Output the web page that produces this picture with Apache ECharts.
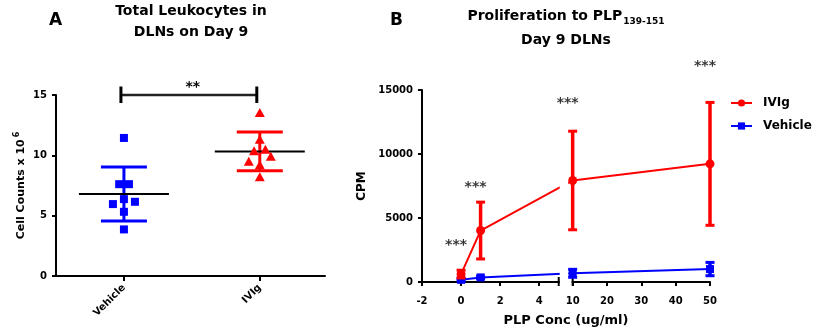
<!DOCTYPE html>
<html>
<head>
<meta charset="utf-8">
<script src="https://cdn.jsdelivr.net/npm/echarts@6/dist/echarts.min.js"></script>
<style>
html, body { margin: 0; padding: 0; background: #fff; }
#main { width: 814px; height: 329px; }
</style>
</head>
<body>
<div id="main"></div>
<script>
// A图：各组细胞数 (x 10^6)
var groupNames = ['Vehicle', 'IVIg'];
var vehicleCounts = [11.44, 7.61, 7.61, 6.37, 5.96, 6.15, 5.32, 3.86];
var vehicleJitter = [0, -0.035, 0.037, 0, -0.081, 0.081, 0, 0];
var ivigCounts = [13.54, 11.33, 10.37, 10.51, 9.93, 9.51, 9.21, 8.22];
var ivigJitter = [0, 0, -0.042, 0.041, 0.081, -0.081, 0, 0];

// B图：PLP浓度与CPM
var plpConc = [0, 1, 10, 50];
var ivigCpm = [620, 4020, 7930, 9230];
var ivigErr = [300, 2220, 3850, 4800];
var vehicleCpm = [170, 360, 680, 1010];
var vehicleErr = [100, 100, 310, 520];
var concTicks = [-2, 0, 2, 4, 10, 20, 30, 40, 50];
var starCpm = [2860, 7410, 13960, 16870];

// 断轴：5 以后跳到 10
var BREAK_LO = 5, BREAK_HI = 10, SEG2_START = 5.714, SEG2_K = 0.1758;
function toAxis(x) { return x <= BREAK_LO ? x : SEG2_START + (x - BREAK_HI) * SEG2_K; }
function fromAxis(u) { return u <= BREAK_LO + 0.01 ? u : BREAK_HI + (u - SEG2_START) / SEG2_K; }

function meanOf(a) { var s = 0; a.forEach(function (v) { s += v; }); return s / a.length; }
function sdOf(a) {
    var m = meanOf(a), s = 0;
    a.forEach(function (v) { s += (v - m) * (v - m); });
    return Math.sqrt(s / (a.length - 1));
}

var FONT = 'DejaVu Sans';
var box = document.getElementById('main');
var myChart = echarts.init(box);

// 均值 ± SD
function meanSdItem(color) {
    return function (params, api) {
        var x = api.value(0), m = api.value(1), sd = api.value(2);
        var pm = api.coord([x, m]), ph = api.coord([x, m + sd]), pl = api.coord([x, m - sd]);
        return {
            type: 'group', children: [
                { type: 'line', shape: { x1: ph[0], y1: ph[1], x2: pl[0], y2: pl[1] }, style: { stroke: color, lineWidth: 3 } },
                { type: 'line', shape: { x1: ph[0] - 23, y1: ph[1], x2: ph[0] + 23, y2: ph[1] }, style: { stroke: color, lineWidth: 3 } },
                { type: 'line', shape: { x1: pl[0] - 23, y1: pl[1], x2: pl[0] + 23, y2: pl[1] }, style: { stroke: color, lineWidth: 3 } },
                { type: 'line', shape: { x1: pm[0] - 45, y1: pm[1], x2: pm[0] + 45, y2: pm[1] }, style: { stroke: '#000', lineWidth: 2 } }
            ]
        };
    };
}

// 误差棒
function errorBarItem(color) {
    return function (params, api) {
        var x = api.value(0);
        var top = api.coord([x, api.value(2)]), bot = api.coord([x, api.value(1)]);
        var cap = 4.5;
        return {
            type: 'group', children: [
                { type: 'line', shape: { x1: top[0], y1: top[1], x2: bot[0], y2: bot[1] }, style: { stroke: color, lineWidth: 3.5 } },
                { type: 'line', shape: { x1: top[0] - cap, y1: top[1], x2: top[0] + cap, y2: top[1] }, style: { stroke: color, lineWidth: 3 } },
                { type: 'line', shape: { x1: bot[0] - cap, y1: bot[1], x2: bot[0] + cap, y2: bot[1] }, style: { stroke: color, lineWidth: 3 } }
            ]
        };
    };
}

var tickLabel = { fontFamily: FONT, fontWeight: 'bold', fontSize: 10, color: '#000' };
var axisLineStyle = { show: true, onZero: false, lineStyle: { color: '#000', width: 2 } };

var option = {
    animation: false,
    textStyle: { fontFamily: FONT },

    title: [
        { text: 'A', left: 49, top: 12, padding: 0, textStyle: { fontFamily: FONT, fontSize: 17, fontWeight: 'bold', color: '#000' } },
        {
            text: 'Total Leukocytes in\nDLNs on Day 9', left: 191, top: 1, padding: 0, textAlign: 'center',
            textStyle: { fontFamily: FONT, fontSize: 14, lineHeight: 21, fontWeight: 'bold', color: '#000' }
        },
        { text: 'B', left: 390, top: 12, padding: 0, textStyle: { fontFamily: FONT, fontSize: 17, fontWeight: 'bold', color: '#000' } },
        {
            text: 'Proliferation to PLP{sub|139-151}\nDay 9 DLNs', left: 566, top: 4, padding: 0, textAlign: 'center',
            textStyle: {
                fontFamily: FONT, fontSize: 14, lineHeight: 24, fontWeight: 'bold', color: '#000',
                rich: { sub: { fontFamily: FONT, fontSize: 9, fontWeight: 'bold', color: '#000', padding: [11, 0, 0, 1] } }
            }
        }
    ],

    legend: {
        data: ['IVIg', 'Vehicle'],
        orient: 'vertical',
        left: 730, top: 96, padding: 0,
        itemWidth: 21, itemHeight: 9, itemGap: 9,
        textStyle: { fontFamily: FONT, fontWeight: 'bold', fontSize: 12, color: '#000', lineHeight: 14, padding: [0, 0, 0, 6] }
    },

    grid: [
        { left: 56, top: 95, width: 269, height: 181, outerBoundsMode: 'none', containLabel: false },
        { left: 422, top: 90, width: 288, height: 192, outerBoundsMode: 'none', containLabel: false }
    ],

    xAxis: [
        {
            gridIndex: 0, type: 'value', min: -0.5, max: 1.48,
            axisLine: axisLineStyle,
            axisTick: { show: true, length: 5, lineStyle: { color: '#000', width: 2 }, customValues: [0, 1] },
            axisLabel: Object.assign({ rotate: 45, margin: 10, customValues: [0, 1], formatter: function (v) { return groupNames[Math.round(v)]; } }, tickLabel),
            splitLine: { show: false }
        },
        {
            gridIndex: 1, type: 'value', min: -2, max: toAxis(50),
            name: 'PLP Conc (ug/ml)', nameLocation: 'middle', nameGap: 32,
            nameTextStyle: { fontFamily: FONT, fontWeight: 'bold', fontSize: 13, color: '#000' },
            axisLine: axisLineStyle,
            axisTick: { show: true, length: 4, lineStyle: { color: '#000', width: 2 }, customValues: concTicks.map(toAxis) },
            axisLabel: Object.assign({ margin: 14, customValues: concTicks.map(toAxis), formatter: function (v) { return String(Math.round(fromAxis(v))); } }, tickLabel),
            splitLine: { show: false }
        }
    ],

    yAxis: [
        {
            gridIndex: 0, type: 'value', min: 0, max: 15, interval: 5,
            name: 'Cell Counts x 10{sup|6}', nameLocation: 'middle', nameGap: 27,
            nameTextStyle: {
                fontFamily: FONT, fontWeight: 'bold', fontSize: 11, color: '#000',
                rich: { sup: { fontFamily: FONT, fontWeight: 'bold', fontSize: 8, color: '#000', padding: [0, 0, 8, 2] } }
            },
            axisLine: axisLineStyle,
            axisTick: { show: true, length: 4, lineStyle: { color: '#000', width: 2 } },
            axisLabel: Object.assign({ margin: 9 }, tickLabel),
            splitLine: { show: false }
        },
        {
            gridIndex: 1, type: 'value', min: 0, max: 15000, interval: 5000,
            name: 'CPM', nameLocation: 'middle', nameGap: 54,
            nameTextStyle: { fontFamily: FONT, fontWeight: 'bold', fontSize: 12, color: '#000' },
            axisLine: axisLineStyle,
            axisTick: { show: true, length: 4, lineStyle: { color: '#000', width: 2 } },
            axisLabel: Object.assign({ margin: 9, formatter: function (v) { return String(v); } }, tickLabel),
            splitLine: { show: false }
        }
    ],

    series: [
        // ---- A ----
        {
            type: 'custom', xAxisIndex: 0, yAxisIndex: 0, z: 1,
            renderItem: meanSdItem('#0000ff'),
            data: [[0, meanOf(vehicleCounts), sdOf(vehicleCounts)]]
        },
        {
            type: 'custom', xAxisIndex: 0, yAxisIndex: 0, z: 1,
            renderItem: meanSdItem('#ff0000'),
            data: [[1, meanOf(ivigCounts), sdOf(ivigCounts)]]
        },
        {
            name: 'Vehicle A', type: 'scatter', xAxisIndex: 0, yAxisIndex: 0, z: 2,
            symbol: 'rect', symbolSize: 8, itemStyle: { color: '#0000ff', opacity: 1 },
            data: vehicleCounts.map(function (v, i) { return [0 + vehicleJitter[i], v]; })
        },
        {
            name: 'IVIg A', type: 'scatter', xAxisIndex: 0, yAxisIndex: 0, z: 2,
            symbol: 'triangle', symbolSize: [10, 9], itemStyle: { color: '#ff0000', opacity: 1 },
            data: ivigCounts.map(function (v, i) { return [1 + ivigJitter[i], v]; })
        },
        {
            // 显著性括号 **
            type: 'custom', xAxisIndex: 0, yAxisIndex: 0, z: 3,
            data: [[0, 1, 15]],
            renderItem: function (params, api) {
                var a = api.coord([api.value(0), api.value(2)]), b = api.coord([api.value(1), api.value(2)]);
                var dx = -3;
                return {
                    type: 'group', children: [
                        { type: 'line', shape: { x1: a[0] + dx, y1: a[1], x2: b[0] + dx, y2: b[1] }, style: { stroke: '#222', lineWidth: 2.5 } },
                        { type: 'line', shape: { x1: a[0] + dx, y1: a[1] - 8.5, x2: a[0] + dx, y2: a[1] + 8 }, style: { stroke: '#000', lineWidth: 3 } },
                        { type: 'line', shape: { x1: b[0] + dx, y1: b[1] - 8.5, x2: b[0] + dx, y2: b[1] + 8 }, style: { stroke: '#000', lineWidth: 3 } },
                        { type: 'text', style: { text: '**', x: (a[0] + b[0]) / 2 + 1, y: a[1] - 8, align: 'center', verticalAlign: 'middle', font: 'bold 14px DejaVu Sans', fill: '#000' } }
                    ]
                };
            }
        },

        // ---- B ----
        {
            name: 'Vehicle', type: 'line', xAxisIndex: 1, yAxisIndex: 1, z: 2,
            symbol: 'rect', symbolSize: 8, showSymbol: true,
            itemStyle: { color: '#0000ff' }, lineStyle: { color: '#0000ff', width: 2 },
            data: plpConc.map(function (x, i) { return [toAxis(x), vehicleCpm[i]]; })
        },
        {
            name: 'IVIg', type: 'line', xAxisIndex: 1, yAxisIndex: 1, z: 2,
            symbol: 'circle', symbolSize: 9, showSymbol: true,
            itemStyle: { color: '#ff0000' }, lineStyle: { color: '#ff0000', width: 2 },
            data: plpConc.map(function (x, i) { return [toAxis(x), ivigCpm[i]]; })
        },
        {
            // 断轴空白与断点标记
            type: 'custom', xAxisIndex: 1, yAxisIndex: 1, z: 3,
            data: [[BREAK_LO, toAxis(BREAK_HI)]],
            renderItem: function (params, api) {
                var a = api.coord([api.value(0), 0]), b = api.coord([api.value(1), 0]);
                var top = params.coordSys.y;
                return {
                    type: 'group', children: [
                        { type: 'rect', shape: { x: a[0] + 1, y: top, width: b[0] - a[0] - 5.5, height: a[1] - top - 1 }, style: { fill: '#fff' } },
                        { type: 'rect', shape: { x: a[0] + 1, y: a[1] - 2, width: b[0] - a[0] - 2, height: 4 }, style: { fill: '#fff' } },
                        { type: 'line', shape: { x1: a[0], y1: a[1] - 5, x2: a[0], y2: a[1] + 4 }, style: { stroke: '#000', lineWidth: 2 } },
                        { type: 'line', shape: { x1: b[0], y1: b[1] - 5, x2: b[0], y2: b[1] + 4 }, style: { stroke: '#000', lineWidth: 2 } }
                    ]
                };
            }
        },
        {
            type: 'custom', xAxisIndex: 1, yAxisIndex: 1, z: 4,
            renderItem: errorBarItem('#0000ff'),
            data: plpConc.map(function (x, i) { return [toAxis(x), vehicleCpm[i] - vehicleErr[i], vehicleCpm[i] + vehicleErr[i]]; })
        },
        {
            type: 'custom', xAxisIndex: 1, yAxisIndex: 1, z: 4,
            renderItem: errorBarItem('#ff0000'),
            data: plpConc.map(function (x, i) { return [toAxis(x), ivigCpm[i] - ivigErr[i], ivigCpm[i] + ivigErr[i]]; })
        },
        {
            // *** 标记
            type: 'scatter', xAxisIndex: 1, yAxisIndex: 1, z: 5, clip: false,
            symbolSize: 0, silent: true,
            label: { show: true, position: 'inside', offset: [-5, 0], formatter: '***', fontFamily: FONT, fontWeight: 'bold', fontSize: 14, color: '#000' },
            data: plpConc.map(function (x, i) { return [toAxis(x), starCpm[i]]; })
        }
    ]
};

myChart.setOption(option);
</script>
</body>
</html>
